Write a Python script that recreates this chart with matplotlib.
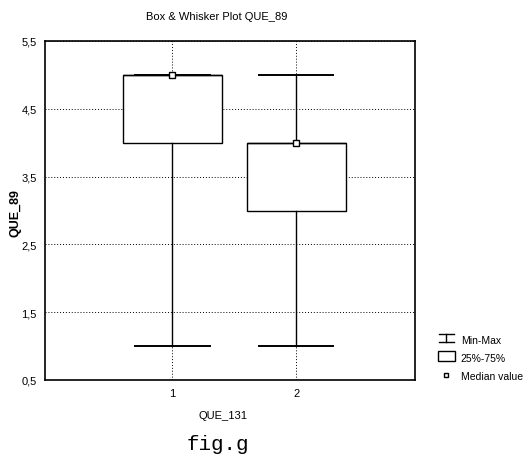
import matplotlib
matplotlib.use("Agg")
import matplotlib.pyplot as plt
from matplotlib.lines import Line2D
from matplotlib.patches import Rectangle
from matplotlib.legend_handler import HandlerBase
from matplotlib import font_manager

names = {f.name for f in font_manager.fontManager.ttflist}
FONT = ['Liberation Sans Narrow'] if 'Liberation Sans Narrow' in names else ['Liberation Sans']
plt.rcParams['font.family'] = FONT + ['DejaVu Sans']

# Data
categories = ["1", "2"]
mins = [1.0, 1.0]
q1 = [4.0, 3.0]
medians = [5.0, 4.0]
q3 = [5.0, 4.0]
maxs = [5.0, 5.0]
yticks = [0.5, 1.5, 2.5, 3.5, 4.5, 5.5]
ytick_labels = ["0,5", "1,5", "2,5", "3,5", "4,5", "5,5"]

W, H = 526, 464
fig = plt.figure(figsize=(W/100, H/100), dpi=100)
ax = fig.add_axes([45/W, 1-381/H, 370/W, 339/H])

positions = [1, 2]
stats = []
for i, c in enumerate(categories):
    stats.append(dict(label=c, whislo=mins[i], q1=q1[i], med=medians[i],
                      q3=q3[i], whishi=maxs[i], fliers=[]))

ax.bxp(stats, positions=positions, widths=0.8, capwidths=0.6,
       showfliers=False, patch_artist=True,
       boxprops=dict(facecolor='white', edgecolor='black', linewidth=1.0),
       whiskerprops=dict(color='black', linewidth=1.0),
       capprops=dict(color='black', linewidth=1.4),
       medianprops=dict(color='black', linewidth=1.0), zorder=3)
ax.plot(positions, medians, linestyle='none', marker='s', markersize=4,
        markerfacecolor='white', markeredgecolor='black', markeredgewidth=1.0, zorder=5)

ax.set_xlim(-0.03, 2.96)
ax.set_ylim(0.5, 5.5)
ax.set_yticks(yticks)
ax.set_yticklabels(ytick_labels)
ax.set_xticks(positions)
ax.set_xticklabels(categories)
ax.tick_params(length=0, labelsize=8, pad=6)
ax.grid(True, linestyle=(0, (1, 2)), color='black', linewidth=0.7, zorder=0)
for s in ax.spines.values():
    s.set_linewidth(1.2)

fig.text(217/W, 1-17/H, "Box & Whisker Plot QUE_89", fontsize=8, ha='center', va='center')
fig.text(223/W, 1-416/H, "QUE_131", fontsize=8, ha='center', va='center')
fig.text(16/W, 1-213/H, "QUE_89", fontsize=9, fontweight='bold', rotation=90,
         ha='center', va='center')


class IHandler(HandlerBase):
    def create_artists(self, legend, orig, xd, yd, w, h, fontsize, trans):
        cx = xd + w / 2
        l1 = Line2D([cx - w*0.45, cx + w*0.45], [yd + h, yd + h], color='black', lw=1.0, transform=trans)
        l2 = Line2D([cx - w*0.45, cx + w*0.45], [yd, yd], color='black', lw=1.0, transform=trans)
        l3 = Line2D([cx, cx], [yd, yd + h], color='black', lw=1.0, transform=trans)
        return [l1, l2, l3]


class BoxHandler(HandlerBase):
    def create_artists(self, legend, orig, xd, yd, w, h, fontsize, trans):
        r = Rectangle((xd, yd - h*0.1), w, h*1.2, facecolor='white', edgecolor='black', lw=1.0, transform=trans)
        return [r]


h_minmax = Line2D([], [])
h_box = Rectangle((0, 0), 1, 1)
h_med = Line2D([], [], linestyle='none', marker='s', markersize=3.5,
               markerfacecolor='white', markeredgecolor='black')
leg = fig.legend([h_minmax, h_box, h_med], ["Min-Max", "25%-75%", "Median value"],
                 handler_map={h_minmax: IHandler(), h_box: BoxHandler()},
                 loc='upper left', bbox_to_anchor=(438/W, 1-336/H),
                 frameon=False, fontsize=7.5, handlelength=1.6, handleheight=0.9,
                 handletextpad=0.6, labelspacing=0.78, borderpad=0, borderaxespad=0)

fig.text(218/W, 1-445/H, "fig.g", family='Liberation Mono', fontsize=15,
         ha='center', va='center')

fig.savefig("out.png", dpi=100)
